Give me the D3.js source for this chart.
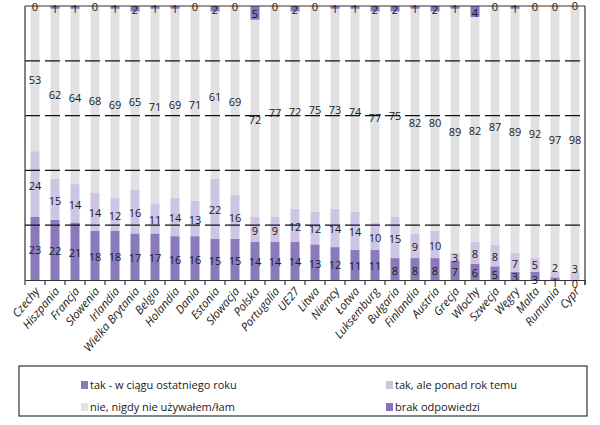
<!DOCTYPE html>
<html><head><meta charset="utf-8">
<script src="https://cdn.jsdelivr.net/npm/d3@7"></script>
<style>body{margin:0;background:#fff;} svg{display:block;} text{font-family:"Open Sans",sans-serif;fill:#1a1a1a;}</style>
</head><body><svg id="c" width="600" height="425"></svg>
<script>
const categories = ["Czechy","Hiszpania","Francja","Słowenia","Irlandia","Wielka Brytania","Belgia","Holandia","Dania","Estonia","Słowacja","Polska","Portugalia","UE27","Litwa","Niemcy","Łotwa","Luksemburg","Bułgaria","Finlandia","Austria","Grecja","Włochy","Szwecja","Węgry","Malta","Rumunia","Cypr"];
const lastYear  = [23,22,21,18,18,17,17,16,16,15,15,14,14,14,13,12,11,11,8,8,8,7,6,5,3,3,1,0];
const overYear  = [24,15,14,14,12,16,11,14,13,22,16,9,9,12,12,14,14,10,15,9,10,3,8,8,7,5,2,3];
const never     = [53,62,64,68,69,65,71,69,71,61,69,72,77,72,75,73,74,77,75,82,80,89,82,87,89,92,97,98];
const noAnswer  = [0,1,1,0,1,2,1,1,0,2,0,5,0,2,0,1,1,2,2,1,2,1,4,0,1,0,0,0];
const seriesNames = ["tak - w ciągu ostatniego roku","tak, ale ponad rok temu","nie, nigdy nie używałem/łam","brak odpowiedzi"];
const seriesColors = ["#8b7abb","#cdc5e3","#e1e1e3","#8872bf"];
const yTicks = [20,40,60,80];

const svg = d3.select("#c");
const pL=25, pR=585, pT=6, pB=280;
const x = d3.scaleBand().domain(categories).range([pL,pR]).paddingInner(0.55).paddingOuter(0.275);
const y = d3.scaleLinear().domain([0,100]).range([pB,pT]);

const rows = categories.map((c,i)=>({cat:c, k0:lastYear[i], k1:overYear[i], k2:never[i], k3:noAnswer[i]}));
const keys=["k0","k1","k2","k3"];
const stacked = d3.stack().keys(keys)(rows);

const g = svg.append("g");
stacked.forEach((s,si)=>{
  g.selectAll(null).data(s).enter().append("rect")
   .attr("x",d=>x(d.data.cat)).attr("width",x.bandwidth())
   .attr("y",d=>y(Math.min(d[1],100))).attr("height",d=>Math.max(0,y(d[0])-y(Math.min(d[1],100))))
   .attr("fill",seriesColors[si]);
});

// gridlines
svg.append("g").selectAll("line").data(yTicks).enter().append("line")
  .attr("x1",pL).attr("x2",pR).attr("y1",d=>y(d)).attr("y2",d=>y(d))
  .attr("stroke","#111").attr("stroke-width",1.2).attr("stroke-dasharray","15,5");

// frame
svg.append("line").attr("x1",pL).attr("x2",pR).attr("y1",pT).attr("y2",pT).attr("stroke","#333").attr("stroke-width",1);
svg.append("line").attr("x1",pR).attr("x2",pR).attr("y1",pT).attr("y2",pB+5).attr("stroke","#333").attr("stroke-width",1.2);
svg.append("line").attr("x1",pL).attr("x2",pL).attr("y1",pT).attr("y2",pB).attr("stroke","#333").attr("stroke-width",1.2);

// x axis
const xAxis = d3.axisBottom(x).tickSize(0).tickFormat("");
const ax = svg.append("g").attr("transform",`translate(0,${pB})`).call(xAxis);
ax.select(".domain").attr("stroke","#333").attr("stroke-width",1.2);
const bounds = d3.range(categories.length+1).map(i=>pL+i*x.step());
svg.append("g").selectAll("line").data(bounds).enter().append("line")
  .attr("x1",d=>d).attr("x2",d=>d).attr("y1",pB).attr("y2",pB+5).attr("stroke","#333").attr("stroke-width",1.2);
svg.append("g").selectAll("text").data(categories).enter().append("text")
  .attr("transform",d=>`translate(${x(d)+x.bandwidth()/2+2},${pB+9}) rotate(-50)`)
  .attr("text-anchor","end").attr("dy","0.35em")
  .style("font-style","italic").style("font-size","11.5px").text(d=>d);

// value labels with simple de-overlap for the two bottom segments
const labelY = rows.map(r=>{
  const ys = stacked.map(s=>{const d=s[rows.indexOf(r)]; return (y(d[0])+y(Math.min(d[1],100)))/2 + 1.5;});
  if (ys[0]-ys[1] < 12) { ys[0] = ys[0]+3; ys[1] = ys[0]-15; }
  return ys;
});
stacked.forEach((s,si)=>{
  svg.append("g").selectAll("text").data(s).enter().append("text")
   .attr("x",d=>x(d.data.cat)+x.bandwidth()/2)
   .attr("y",(d,i)=>labelY[i][si])
   .attr("text-anchor","middle").attr("dy","0.36em")
   .style("font-size","11px").text(d=>d.data[keys[si]]);
});

// legend
const lg = svg.append("g");
lg.append("rect").attr("x",19).attr("y",366).attr("width",568).attr("height",50).attr("fill","none").attr("stroke","#333").attr("stroke-width",1.2);
const lpos = [[81,385],[386,385],[81,407],[386,407]];
seriesNames.forEach((n,i)=>{
  lg.append("rect").attr("x",lpos[i][0]).attr("y",lpos[i][1]-4).attr("width",7).attr("height",8).attr("fill",seriesColors[i]);
  lg.append("text").attr("x",lpos[i][0]+9).attr("y",lpos[i][1]).attr("dy","0.35em").style("font-size","11px").text(n);
});
</script></body></html>
